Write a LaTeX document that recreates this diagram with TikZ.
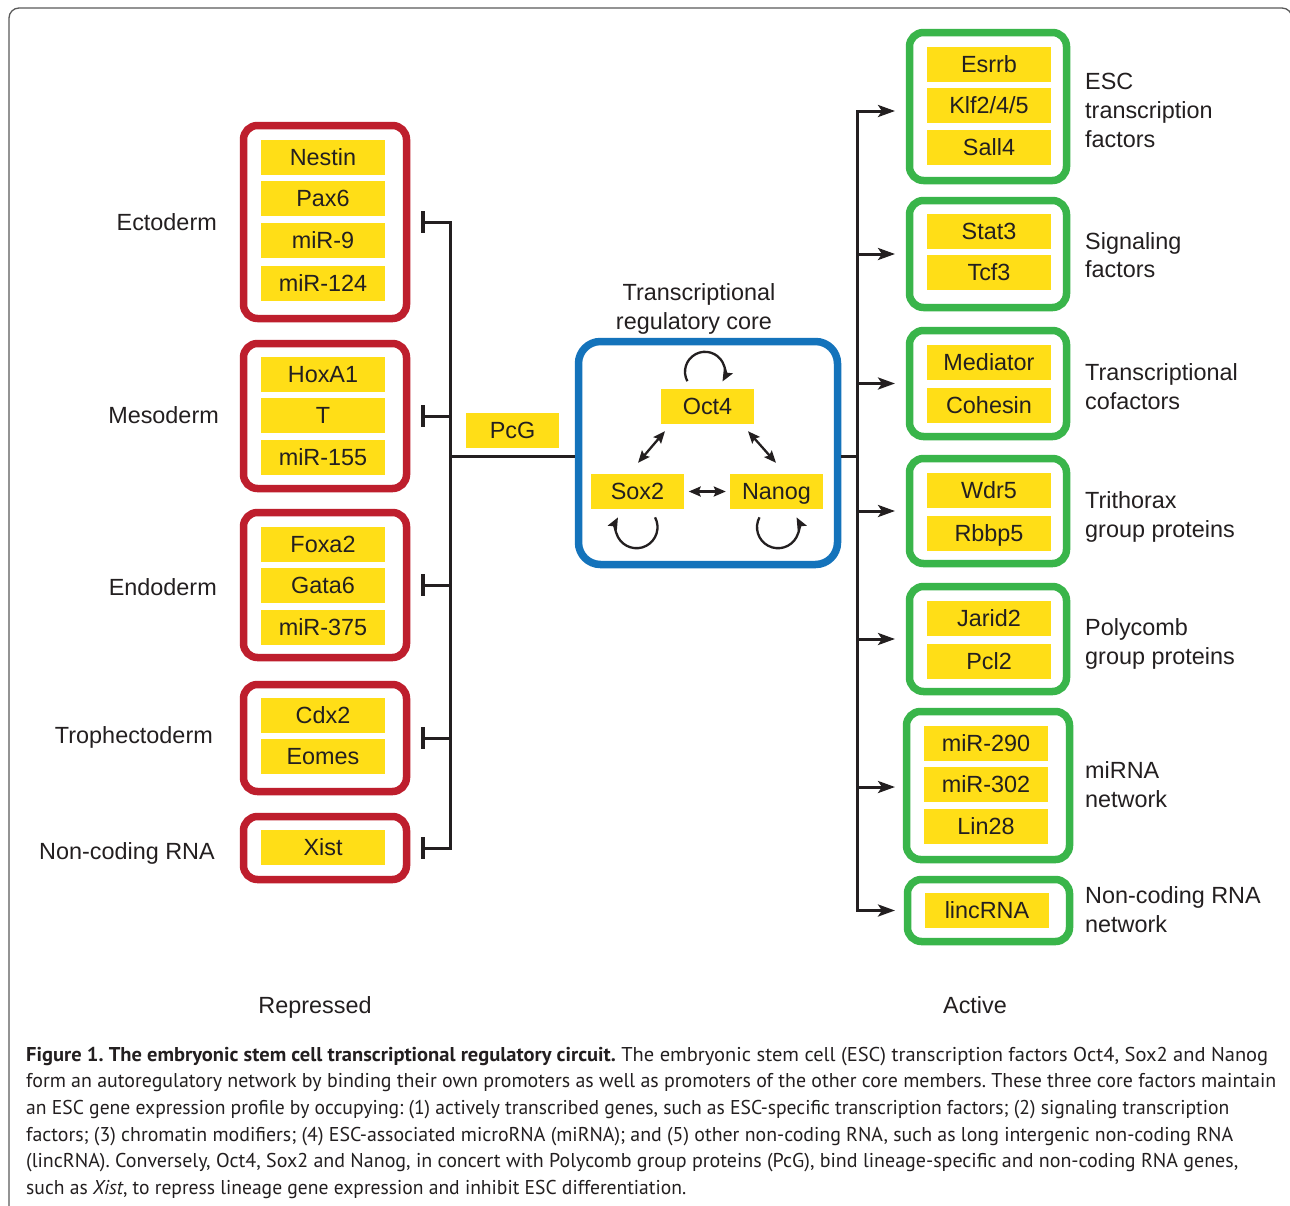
\documentclass[tikz,border=0pt]{standalone}
\usepackage{fontspec}
\usepackage{graphicx}
\setmainfont{Liberation Sans}
\newfontfamily\capfont{PT Sans}
\usetikzlibrary{arrows.meta,calc}
\definecolor{ink}{RGB}{35,31,32}
\definecolor{gred}{RGB}{190,30,45}
\definecolor{ggreen}{RGB}{57,181,74}
\definecolor{gblue}{RGB}{20,115,187}
\definecolor{gyellow}{RGB}{255,222,23}
\definecolor{framec}{RGB}{90,90,90}
\newcommand\dfont{\fontsize{23.4}{28}\selectfont}
\newcommand\cfont{\capfont\fontsize{20}{26}\selectfont\frenchspacing}
\begin{document}
\begin{tikzpicture}[x=1pt,y=-1pt,
  every node/.style={text=ink},
  gene/.style={fill=gyellow, minimum width=124pt, minimum height=35pt, inner sep=0pt,
    text height=16.8pt, text depth=0pt, font=\dfont},
  redbox/.style={draw=gred, line width=7.5pt, rounded corners=14pt, minimum width=163pt, inner sep=0pt},
  greenbox/.style={draw=ggreen, line width=7.5pt, rounded corners=14pt, minimum width=157pt, inner sep=0pt},
  corebox/.style={draw=gblue, line width=7.5pt, rounded corners=22pt, inner sep=0pt},
  lbl/.style={font=\dfont, inner sep=0pt},
  conn/.style={draw=ink, line width=3pt},
  barline/.style={draw=ink, line width=4.5pt},
  arr/.style={-{Stealth[length=17pt,width=12pt,inset=4pt]}},
  dbl/.style={draw=ink, line width=2.3pt, {Stealth[length=12pt,width=10pt,inset=2pt]}-{Stealth[length=12pt,width=10pt,inset=2pt]}},
  loopa/.style={draw=ink, line width=2.3pt, -{Stealth[length=12pt,width=10pt,inset=2pt]}},
  capnode/.style={font=\cfont, inner sep=0pt, anchor=base west}
]
\useasboundingbox (0,0) rectangle (1290,1205);
\fill[white] (0,0) rectangle (1290,1205);
\draw[framec, line width=1.3pt, rounded corners=10pt] (9,1211) -- (9,8) -- (1292,8) -- (1292,1211);

% ---------- left: repressed ----------
\node[redbox, minimum height=193pt] (ecto) at (325,222) {};
\node[redbox, minimum height=145pt] (meso) at (325,416) {};
\node[redbox, minimum height=145pt] (endo) at (325,585) {};
\node[redbox, minimum height=107pt] (troph) at (325,738) {};
\node[redbox, minimum height=63pt] (ncr) at (325,848) {};

\node[gene] (nestin) at (323,157.5) {Nestin};
\node[gene] (pax6) at (323,198.5) {Pax6};
\node[gene] (mir9) at (323,240.5) {miR-9};
\node[gene] (mir124) at (323,283.5) {miR-124};
\node[gene] (hoxa1) at (323,374.5) {HoxA1};
\node[gene] (tgene) at (323,415.5) {T};
\node[gene] (mir155) at (323,457.5) {miR-155};
\node[gene] (foxa2) at (323,544) {Foxa2};
\node[gene] (gata6) at (323,585.5) {Gata6};
\node[gene] (mir375) at (323,627.5) {miR-375};
\node[gene] (cdx2) at (323,715.5) {Cdx2};
\node[gene] (eomes) at (323,756.5) {Eomes};
\node[gene] (xistg) at (323,847.5) {Xist};

\node[lbl, anchor=base east] (lecto) at (217,230.5) {Ectoderm};
\node[lbl, anchor=base east] (lmeso) at (219,423.5) {Mesoderm};
\node[lbl, anchor=base east] (lendo) at (217,595.5) {Endoderm};
\node[lbl, anchor=base east] (ltroph) at (213,743.5) {Trophectoderm};
\node[lbl, anchor=base east] (lncr) at (215,859.5) {Non-coding RNA};

\coordinate (spineL) at (450,456);
\coordinate (tb1) at ([xshift=12.5pt]ecto.east);
\coordinate (tb2) at ([xshift=12.5pt]meso.east);
\coordinate (tb3) at ([xshift=12.5pt]endo.east);
\coordinate (tb4) at ([xshift=12.5pt]troph.east);
\coordinate (tb5) at ([xshift=12.5pt]ncr.east);
\draw[conn] (tb1) -- (tb1 -| spineL) -- (tb5 -| spineL) -- (tb5);
\draw[conn] (tb2 -| spineL) -- (tb2);
\draw[conn] (tb3 -| spineL) -- (tb3);
\draw[conn] (tb4 -| spineL) -- (tb4);
\foreach \t in {tb1,tb2,tb3,tb4,tb5}
  \draw[barline] ([yshift=11pt]\t) -- ([yshift=-11pt]\t);

\node[gene, minimum width=93pt] (pcg) at (512.5,430.5) {PcG};

% ---------- core ----------
\node[corebox, minimum width=259pt, minimum height=223pt] (core) at (708,453) {};
\node[lbl, anchor=base] (ct1) at (699,300) {Transcriptional};
\node[lbl, anchor=base] (ct2) at (694,329) {regulatory core};
\draw[conn] (spineL) -- (spineL -| core.west);

\node[gene, minimum width=93pt] (oct4) at (707.5,406.5) {Oct4};
\node[gene, minimum width=93pt] (sox2) at (637.5,491.5) {Sox2};
\node[gene, minimum width=93pt] (nanog) at (776.5,491.5) {Nanog};

\draw[dbl] ([shift={(-42.5,7)}]oct4.south) -- ([shift={(0.5,-11)}]sox2.north);
\draw[dbl] ([shift={(40.5,7)}]oct4.south) -- ([shift={(-0.5,-11)}]nanog.north);
\draw[dbl] ([shift={(4.5,0)}]sox2.east) -- ([shift={(-4,0)}]nanog.west);

\draw[loopa] ([shift={(-2.5,-17)}]oct4.north) ++(152:20) arc[start angle=152, end angle=389, radius=20];
\draw[loopa] ([shift={(-1,18)}]sox2.south) ++(-28:21) arc[start angle=-28, end angle=208, radius=21];
\draw[loopa] ([shift={(1.5,18)}]nanog.south) ++(208:21) arc[start angle=208, end angle=-28, radius=21];

% ---------- right: active ----------
\node[greenbox, minimum height=148pt] (g1) at (988,106.5) {};
\node[greenbox, minimum height=107pt] (g2) at (988,254) {};
\node[greenbox, minimum height=106pt] (g3) at (988,383.5) {};
\node[greenbox, minimum height=105pt] (g4) at (988,511) {};
\node[greenbox, minimum height=105pt] (g5) at (988,639) {};
\node[greenbox, minimum height=148pt, minimum width=163pt] (g6) at (988,785.5) {};
\node[greenbox, minimum height=62pt, minimum width=162pt] (g7) at (988.5,910.5) {};

\node[gene] (esrrb) at (989,64.5) {Esrrb};
\node[gene] (klf) at (989,105.5) {Klf2/4/5};
\node[gene] (sall4) at (989,147.5) {Sall4};
\node[gene] (stat3) at (989,231.5) {Stat3};
\node[gene] (tcf3) at (989,272.5) {Tcf3};
\node[gene] (mediator) at (989,362.5) {Mediator};
\node[gene] (cohesin) at (989,405.5) {Cohesin};
\node[gene] (wdr5) at (989,490.5) {Wdr5};
\node[gene] (rbbp5) at (989,533.5) {Rbbp5};
\node[gene] (jarid2) at (989,618.5) {Jarid2};
\node[gene] (pcl2) at (989,661.5) {Pcl2};
\node[gene] (mir290) at (986,743.5) {miR-290};
\node[gene] (mir302) at (986,784.5) {miR-302};
\node[gene] (lin28) at (986,826.5) {Lin28};
\node[gene] (linc) at (987,910.5) {lincRNA};

\node[lbl, anchor=base west] (r1a) at (1085,89.5) {ESC};
\node[lbl, anchor=base west] (r1b) at (1085,118.5) {transcription};
\node[lbl, anchor=base west] (r1c) at (1085,147.5) {factors};
\node[lbl, anchor=base west] (r2a) at (1085,249.5) {Signaling};
\node[lbl, anchor=base west] (r2b) at (1085,277.5) {factors};
\node[lbl, anchor=base west] (r3a) at (1085,380) {Transcriptional};
\node[lbl, anchor=base west] (r3b) at (1085,409) {cofactors};
\node[lbl, anchor=base west] (r4a) at (1085,508) {Trithorax};
\node[lbl, anchor=base west] (r4b) at (1085,537) {group proteins};
\node[lbl, anchor=base west] (r5a) at (1085,635) {Polycomb};
\node[lbl, anchor=base west] (r5b) at (1085,664) {group proteins};
\node[lbl, anchor=base west] (r6a) at (1085,778) {miRNA};
\node[lbl, anchor=base west] (r6b) at (1085,807) {network};
\node[lbl, anchor=base west] (r7a) at (1085,903) {Non-coding RNA};
\node[lbl, anchor=base west] (r7b) at (1085,932) {network};

\coordinate (spineR) at (857,456);
\coordinate (tipx) at (895,0);
\coordinate (a1) at ([yshift=-4.5pt]g1.west -| tipx);
\coordinate (a2) at (g2.west -| tipx);
\coordinate (a3) at (g3.west -| tipx);
\coordinate (a4) at (g4.west -| tipx);
\coordinate (a5) at (g5.west -| tipx);
\coordinate (a6) at ([yshift=-1.5pt]g6.west -| tipx);
\coordinate (a7) at (g7.west -| tipx);
\draw[conn] (core.east |- spineR) -- (spineR);
\draw[conn, {Stealth[length=17pt,width=12pt,inset=4pt]}-{Stealth[length=17pt,width=12pt,inset=4pt]}] (a1) -- (a1 -| spineR) -- (a7 -| spineR) -- (a7);
\foreach \a in {a2,a3,a4,a5,a6}
  \draw[conn, arr] (\a -| spineR) -- (\a);

\node[lbl, anchor=base] (rep) at (315,1013) {Repressed};
\node[lbl, anchor=base] (act) at (975,1013) {Active};

% ---------- caption ----------
\node[capnode] (cap1) at (26,1061) {\resizebox{1242pt}{\height}{\textbf{Figure 1. The embryonic stem cell transcriptional regulatory circuit.} The embryonic stem cell (ESC) transcription factors Oct4, Sox2 and Nanog}};
\node[capnode] (cap2) at (26,1087.7) {\resizebox{1250pt}{\height}{form an autoregulatory network by binding their own promoters as well as promoters of the other core members. These three core factors maintain}};
\node[capnode] (cap3) at (26,1114.4) {\resizebox{1203pt}{\height}{an ESC gene expression profile by occupying: (1) actively transcribed genes, such as ESC-specific transcription factors; (2) signaling transcription}};
\node[capnode] (cap4) at (26,1141) {\resizebox{1207pt}{\height}{factors; (3) chromatin modifiers; (4) ESC-associated microRNA (miRNA); and (5) other non-coding RNA, such as long intergenic non-coding RNA}};
\node[capnode] (cap5) at (26,1167.8) {\resizebox{1212pt}{\height}{(lincRNA). Conversely, Oct4, Sox2 and Nanog, in concert with Polycomb group proteins (PcG), bind lineage-specific and non-coding RNA genes,}};
\node[capnode] (cap6) at (26,1194.5) {\resizebox{660pt}{\height}{such as \textit{Xist}, to repress lineage gene expression and inhibit ESC differentiation.}};
\end{tikzpicture}
\end{document}
